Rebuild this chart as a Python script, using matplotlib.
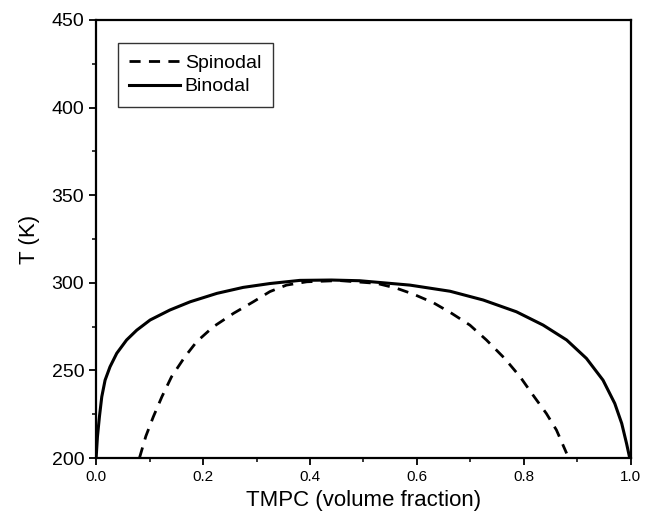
import matplotlib
matplotlib.use('Agg')
import matplotlib.pyplot as plt
from matplotlib.ticker import MultipleLocator

# binodal (coexistence) curve
binodal_phi = [0.0, 0.0025, 0.0062, 0.0106, 0.0168, 0.026, 0.0386, 0.057, 0.076, 0.101,
               0.138, 0.176, 0.226, 0.275, 0.325, 0.381, 0.44, 0.493, 0.587, 0.662,
               0.724, 0.786, 0.836, 0.880, 0.917, 0.948, 0.970, 0.983, 0.992, 0.998]
binodal_T = [200, 212.2, 223.6, 235, 244.5, 252.1, 259.8, 267.4, 273, 278.8,
             284.5, 289.2, 294, 297.4, 299.6, 301.4, 301.6, 301.2, 298.7, 295.2,
             290.2, 283.5, 275.9, 267.4, 256.9, 244.5, 231.2, 219.8, 208.4, 200]

# spinodal curve
spinodal_phi = [0.081, 0.093, 0.107, 0.123, 0.141, 0.166, 0.188, 0.219, 0.257, 0.294,
                0.325, 0.356, 0.394, 0.455, 0.525, 0.562, 0.593, 0.631, 0.665, 0.699,
                0.730, 0.764, 0.793, 0.817, 0.842, 0.861, 0.880]
spinodal_T = [200, 212.5, 223.6, 235, 246.4, 257.8, 266.4, 274.9, 282.6, 289.2,
              295, 298.7, 300.6, 301.3, 299.7, 296.9, 293.6, 288.6, 282.6, 275.9,
              267.4, 256.9, 246.4, 236, 225.5, 216, 202.7]

plt.rcParams['font.family'] = ['Liberation Sans', 'DejaVu Sans']

fig = plt.figure(figsize=(6.45, 5.23), dpi=100)
ax = fig.add_axes([0.149, 0.124, 0.829, 0.838])

ax.plot(spinodal_phi, spinodal_T, color='black', lw=2.0, linestyle=(0, (4, 3)), label='Spinodal')
ax.plot(binodal_phi, binodal_T, color='black', lw=2.2, linestyle='-', label='Binodal')

ax.set_xlim(0, 1.0)
ax.set_ylim(200, 450)
ax.yaxis.set_major_locator(MultipleLocator(50))
ax.yaxis.set_minor_locator(MultipleLocator(25))
ax.set_xticks([0.0, 0.2, 0.4, 0.6, 0.8, 1.0])
ax.set_xticklabels(['0.0', '0.2', '0.4', '0.6', '0.8', '1.0'], fontsize=11)
ax.xaxis.set_minor_locator(MultipleLocator(0.1))
ax.tick_params(axis='y', labelsize=14)
ax.tick_params(which='major', direction='out', length=5, width=1.3)
ax.tick_params(which='minor', direction='out', length=3, width=1.1)
for s in ax.spines.values():
    s.set_linewidth(1.6)

ax.set_xlabel('TMPC (volume fraction)', fontsize=16)
ax.set_ylabel('T (K)', fontsize=16, labelpad=8)

leg = ax.legend(loc='upper left', bbox_to_anchor=(0.022, 0.97), fontsize=14, frameon=True,
                fancybox=False, edgecolor='black', handlelength=2.6, handletextpad=0.25,
                borderpad=0.6, labelspacing=0.3)
leg.get_frame().set_linewidth(1.0)

fig.savefig('out.png', dpi=100)
